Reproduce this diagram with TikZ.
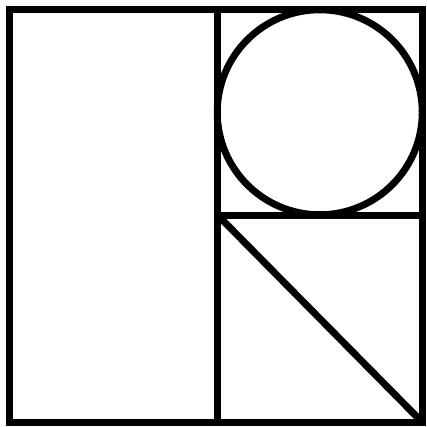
\documentclass[tikz,border=0pt]{standalone}
\usepackage{tikz}
\tikzset{
	frameline/.style={draw=black, line width=7pt, line join=miter},
	partline/.style={draw=black, line width=7pt}
}
\begin{document}
\begin{tikzpicture}[x=1pt, y=-1pt]
	\useasboundingbox (0,0) rectangle (427,426);
	\coordinate (tl) at (9.5,9.5);
	\coordinate (br) at (422,422);
	\coordinate (midtop) at (217.5,9.5);
	\coordinate (midbot) at (217.5,422);
	\coordinate (cross) at (217.5,215);
	\coordinate (rightmid) at (422,215);
	% outer frame and dividers
	\draw[frameline] (tl) rectangle (br);
	\draw[partline] (midtop) -- (midbot);
	\draw[partline] (cross) -- (rightmid);
	% circle in the upper right square
	\draw[partline] (319.75,112.25) circle (102.5);
	% diagonal in the lower right square
	\draw[partline] (cross) -- (br);
\end{tikzpicture}
\end{document}
